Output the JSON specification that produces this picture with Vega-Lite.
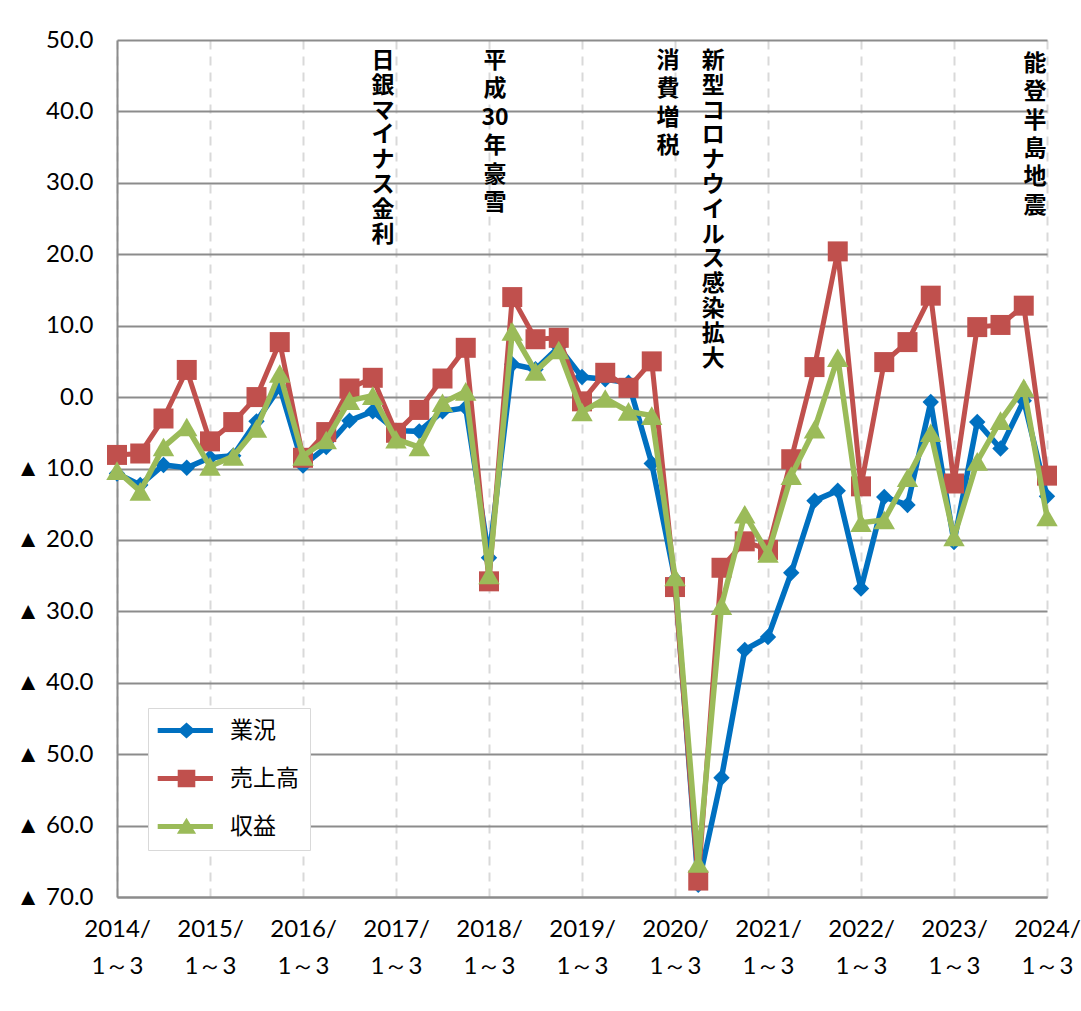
{
  "$schema": "https://vega.github.io/schema/vega-lite/v6.json",
  "autosize": {"type": "none"},
  "width": 930,
  "height": 857,
  "padding": {"left": 117, "top": 40, "right": 34, "bottom": 114},
  "background": "white",
  "config": {"view": {"stroke": null}, "font": "Lato"},
  "datasets": {
    "main": [
      {"t": 2014, "series": "業況", "value": -10.7}, {"t": 2014.25, "series": "業況", "value": -12.3}, {"t": 2014.5, "series": "業況", "value": -9.5}, {"t": 2014.75, "series": "業況", "value": -9.9},
      {"t": 2015, "series": "業況", "value": -8.5}, {"t": 2015.25, "series": "業況", "value": -8.2}, {"t": 2015.5, "series": "業況", "value": -3.4}, {"t": 2015.75, "series": "業況", "value": 1.4},
      {"t": 2016, "series": "業況", "value": -9.6}, {"t": 2016.25, "series": "業況", "value": -7.0}, {"t": 2016.5, "series": "業況", "value": -3.3}, {"t": 2016.75, "series": "業況", "value": -2.0},
      {"t": 2017, "series": "業況", "value": -4.7}, {"t": 2017.25, "series": "業況", "value": -4.8}, {"t": 2017.5, "series": "業況", "value": -2.0}, {"t": 2017.75, "series": "業況", "value": -1.5},
      {"t": 2018, "series": "業況", "value": -22.5}, {"t": 2018.25, "series": "業況", "value": 4.6}, {"t": 2018.5, "series": "業況", "value": 3.9}, {"t": 2018.75, "series": "業況", "value": 7.0},
      {"t": 2019, "series": "業況", "value": 2.8}, {"t": 2019.25, "series": "業況", "value": 2.5}, {"t": 2019.5, "series": "業況", "value": 2.0}, {"t": 2019.75, "series": "業況", "value": -9.3},
      {"t": 2020, "series": "業況", "value": -25.5}, {"t": 2020.25, "series": "業況", "value": -68.3}, {"t": 2020.5, "series": "業況", "value": -53.3}, {"t": 2020.75, "series": "業況", "value": -35.4},
      {"t": 2021, "series": "業況", "value": -33.6}, {"t": 2021.25, "series": "業況", "value": -24.6}, {"t": 2021.5, "series": "業況", "value": -14.5}, {"t": 2021.75, "series": "業況", "value": -13.1},
      {"t": 2022, "series": "業況", "value": -26.8}, {"t": 2022.25, "series": "業況", "value": -14.0}, {"t": 2022.5, "series": "業況", "value": -15.1}, {"t": 2022.75, "series": "業況", "value": -0.7},
      {"t": 2023, "series": "業況", "value": -20.3}, {"t": 2023.25, "series": "業況", "value": -3.5}, {"t": 2023.5, "series": "業況", "value": -7.2}, {"t": 2023.75, "series": "業況", "value": -0.5},
      {"t": 2024, "series": "業況", "value": -13.9},
      {"t": 2014, "series": "売上高", "value": -8.1}, {"t": 2014.25, "series": "売上高", "value": -7.9}, {"t": 2014.5, "series": "売上高", "value": -3.0}, {"t": 2014.75, "series": "売上高", "value": 3.8},
      {"t": 2015, "series": "売上高", "value": -6.2}, {"t": 2015.25, "series": "売上高", "value": -3.5}, {"t": 2015.5, "series": "売上高", "value": 0.0}, {"t": 2015.75, "series": "売上高", "value": 7.7},
      {"t": 2016, "series": "売上高", "value": -8.5}, {"t": 2016.25, "series": "売上高", "value": -4.9}, {"t": 2016.5, "series": "売上高", "value": 1.2}, {"t": 2016.75, "series": "売上高", "value": 2.7},
      {"t": 2017, "series": "売上高", "value": -5.0}, {"t": 2017.25, "series": "売上高", "value": -1.8}, {"t": 2017.5, "series": "売上高", "value": 2.6}, {"t": 2017.75, "series": "売上高", "value": 6.9},
      {"t": 2018, "series": "売上高", "value": -25.8}, {"t": 2018.25, "series": "売上高", "value": 14.0}, {"t": 2018.5, "series": "売上高", "value": 8.1}, {"t": 2018.75, "series": "売上高", "value": 8.3},
      {"t": 2019, "series": "売上高", "value": -0.6}, {"t": 2019.25, "series": "売上高", "value": 3.4}, {"t": 2019.5, "series": "売上高", "value": 1.3}, {"t": 2019.75, "series": "売上高", "value": 5.0},
      {"t": 2020, "series": "売上高", "value": -26.6}, {"t": 2020.25, "series": "売上高", "value": -67.7}, {"t": 2020.5, "series": "売上高", "value": -23.9}, {"t": 2020.75, "series": "売上高", "value": -20.2},
      {"t": 2021, "series": "売上高", "value": -21.4}, {"t": 2021.25, "series": "売上高", "value": -8.7}, {"t": 2021.5, "series": "売上高", "value": 4.2}, {"t": 2021.75, "series": "売上高", "value": 20.4},
      {"t": 2022, "series": "売上高", "value": -12.5}, {"t": 2022.25, "series": "売上高", "value": 4.9}, {"t": 2022.5, "series": "売上高", "value": 7.7}, {"t": 2022.75, "series": "売上高", "value": 14.2},
      {"t": 2023, "series": "売上高", "value": -12.1}, {"t": 2023.25, "series": "売上高", "value": 9.8}, {"t": 2023.5, "series": "売上高", "value": 10.1}, {"t": 2023.75, "series": "売上高", "value": 12.8},
      {"t": 2024, "series": "売上高", "value": -11.0},
      {"t": 2014, "series": "収益", "value": -10.3}, {"t": 2014.25, "series": "収益", "value": -13.2}, {"t": 2014.5, "series": "収益", "value": -7.0}, {"t": 2014.75, "series": "収益", "value": -4.2},
      {"t": 2015, "series": "収益", "value": -9.7}, {"t": 2015.25, "series": "収益", "value": -8.3}, {"t": 2015.5, "series": "収益", "value": -4.4}, {"t": 2015.75, "series": "収益", "value": 3.3},
      {"t": 2016, "series": "収益", "value": -8.3}, {"t": 2016.25, "series": "収益", "value": -6.0}, {"t": 2016.5, "series": "収益", "value": -0.5}, {"t": 2016.75, "series": "収益", "value": 0.2},
      {"t": 2017, "series": "収益", "value": -5.9}, {"t": 2017.25, "series": "収益", "value": -7.0}, {"t": 2017.5, "series": "収益", "value": -0.8}, {"t": 2017.75, "series": "収益", "value": 0.8},
      {"t": 2018, "series": "収益", "value": -24.9}, {"t": 2018.25, "series": "収益", "value": 9.2}, {"t": 2018.5, "series": "収益", "value": 3.6}, {"t": 2018.75, "series": "収益", "value": 6.6},
      {"t": 2019, "series": "収益", "value": -2.1}, {"t": 2019.25, "series": "収益", "value": -0.2}, {"t": 2019.5, "series": "収益", "value": -2.0}, {"t": 2019.75, "series": "収益", "value": -2.6},
      {"t": 2020, "series": "収益", "value": -25.2}, {"t": 2020.25, "series": "収益", "value": -65.3}, {"t": 2020.5, "series": "収益", "value": -29.2}, {"t": 2020.75, "series": "収益", "value": -16.4},
      {"t": 2021, "series": "収益", "value": -21.9}, {"t": 2021.25, "series": "収益", "value": -11.0}, {"t": 2021.5, "series": "収益", "value": -4.5}, {"t": 2021.75, "series": "収益", "value": 5.5},
      {"t": 2022, "series": "収益", "value": -17.6}, {"t": 2022.25, "series": "収益", "value": -17.2}, {"t": 2022.5, "series": "収益", "value": -11.3}, {"t": 2022.75, "series": "収益", "value": -5.0},
      {"t": 2023, "series": "収益", "value": -19.6}, {"t": 2023.25, "series": "収益", "value": -9.0}, {"t": 2023.5, "series": "収益", "value": -3.3}, {"t": 2023.75, "series": "収益", "value": 1.3},
      {"t": 2024, "series": "収益", "value": -16.8}
    ]
  },
  "encoding": {
    "x": {
      "field": "t", "type": "quantitative",
      "scale": {"domain": [2014, 2024], "nice": false, "zero": false},
      "axis": {
        "title": null,
        "values": [2014, 2015, 2016, 2017, 2018, 2019, 2020, 2021, 2022, 2023, 2024],
        "labelExpr": "[format(datum.value, 'd') + '/', '1～3']",
        "labelFont": "Lato", "labelFontSize": 24, "labelColor": "#000000",
        "labelLineHeight": 37, "labelPadding": 20, "labelFlush": false, "labelOverlap": false, "labelBound": false,
        "ticks": false, "tickSize": 0,
        "domainColor": "#8c8c8c", "domainWidth": 2,
        "grid": true, "gridColor": "#d9d9d9", "gridWidth": 2, "gridDash": [9, 7]
      }
    },
    "y": {
      "field": "value", "type": "quantitative",
      "scale": {"domain": [-70, 50], "nice": false, "zero": false},
      "axis": {
        "title": null,
        "values": [-70, -60, -50, -40, -30, -20, -10, 0, 10, 20, 30, 40, 50],
        "labelExpr": "datum.value < 0 ? '▲ ' + format(-datum.value, '.1f') : format(datum.value, '.1f')",
        "labelFont": "Lato", "labelFontSize": 24, "labelColor": "#000000",
        "labelPadding": 24, "labelOverlap": false, "labelBound": false,
        "ticks": false, "tickSize": 0,
        "domainColor": "#8c8c8c", "domainWidth": 2,
        "grid": true, "gridColor": "#8c8c8c", "gridWidth": 2
      }
    }
  },
  "layer": [
    {
      "data": {"name": "main"},
      "transform": [{"filter": "datum.series === '業況'"}],
      "mark": {"type": "line", "color": "#0070C0", "strokeWidth": 5.5, "point": {"filled": true, "color": "#0070C0", "shape": "diamond", "size": 270}}
    },
    {
      "data": {"name": "main"},
      "transform": [{"filter": "datum.series === '売上高'"}],
      "mark": {"type": "line", "color": "#C0504D", "strokeWidth": 5, "point": {"filled": true, "color": "#C0504D", "shape": "square", "size": 400}}
    },
    {
      "data": {"name": "main"},
      "transform": [{"filter": "datum.series === '収益'"}],
      "mark": {"type": "line", "color": "#9BBB59", "strokeWidth": 5.5, "point": {"filled": true, "color": "#9BBB59", "shape": "triangle-up", "size": 460}}
    },
    {
      "data": {"name": "main"},
      "mark": {"type": "point", "filled": true, "opacity": 0},
      "encoding": {
        "color": {
          "field": "series", "type": "nominal",
          "scale": {"domain": ["業況", "売上高", "収益"], "range": ["#0070C0", "#C0504D", "#9BBB59"]},
          "legend": {
            "title": null, "orient": "none", "legendX": 31, "legendY": 668,
            "fillColor": "white", "strokeColor": "#d9d9d9", "padding": 11,
            "labelFont": "Noto Sans CJK JP", "labelFontSize": 23, "labelColor": "#000000",
            "labelOffset": 48, "rowPadding": 24, "symbolSize": 256, "symbolOpacity": 1, "symbolStrokeWidth": 0
          }
        },
        "shape": {
          "field": "series", "type": "nominal",
          "scale": {
            "domain": ["業況", "売上高", "収益"],
            "range": [
              "M-1.6,-0.3 L1.23,-0.3 L2.0,-1 L2.77,-0.3 L5.3,-0.3 L5.3,0.3 L2.77,0.3 L2.0,1 L1.23,0.3 L-1.6,0.3 Z",
              "M-1.6,-0.3 L0.9,-0.3 L0.9,-1.1 L3.1,-1.1 L3.1,-0.3 L5.3,-0.3 L5.3,0.3 L3.1,0.3 L3.1,1.1 L0.9,1.1 L0.9,0.3 L-1.6,0.3 Z",
              "M-1.6,-0.3 L1.52,-0.3 L2.0,-1.1 L2.48,-0.3 L5.3,-0.3 L5.3,0.3 L2.84,0.3 L3.2,0.9 L0.8,0.9 L1.16,0.3 L-1.6,0.3 Z"
            ]
          },
          "legend": {
            "title": null, "orient": "none", "legendX": 31, "legendY": 668,
            "fillColor": "white", "strokeColor": "#d9d9d9", "padding": 11,
            "labelFont": "Noto Sans CJK JP", "labelFontSize": 23, "labelColor": "#000000",
            "labelOffset": 48, "rowPadding": 24, "symbolSize": 256, "symbolOpacity": 1, "symbolStrokeWidth": 0
          }
        }
      }
    },
    {
      "data": {"values": [
        {"note": "日\n銀\nマ\nイ\nナ\nス\n金\n利", "t": 2016.86, "value": 48.6},
        {"note": "新\n型\nコ\nロ\nナ\nウ\nイ\nル\nス\n感\n染\n拡\n大", "t": 2020.41, "value": 48.6}
      ]},
      "mark": {"type": "text", "lineBreak": "\n", "lineHeight": 24.8, "font": "Noto Sans CJK JP", "fontWeight": "bold", "fontSize": 23, "align": "center", "baseline": "top", "color": "#000000"},
      "encoding": {"text": {"field": "note"}}
    },
    {
      "data": {"values": [
        {"note": "平\n成\n30\n年\n豪\n雪", "t": 2018.065, "value": 48.6},
        {"note": "消\n費\n増\n税", "t": 2019.925, "value": 48.6},
        {"note": "能\n登\n半\n島\n地\n震", "t": 2023.87, "value": 48.2}
      ]},
      "mark": {"type": "text", "lineBreak": "\n", "lineHeight": 28.4, "font": "Noto Sans CJK JP", "fontWeight": "bold", "fontSize": 23, "align": "center", "baseline": "top", "color": "#000000"},
      "encoding": {"text": {"field": "note"}}
    }
  ]
}
